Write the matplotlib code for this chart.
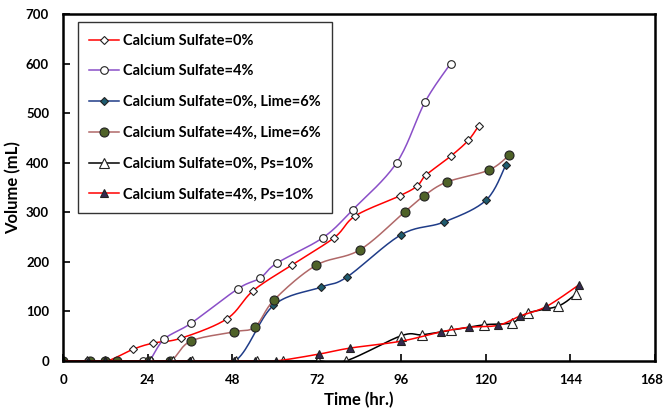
import matplotlib
matplotlib.use('Agg')
import matplotlib.pyplot as plt
import matplotlib.transforms as mtransforms
import numpy as np

plt.rcParams['font.family'] = ['Lato', 'DejaVu Sans']
plt.rcParams['font.weight'] = 'bold'

# hours / volume (mL)
hours_cs0 = [0, 7, 12.5, 20, 25.5, 33.5, 46.5, 54, 65, 77, 83, 95.5, 100.5, 103, 110, 115, 118]
vol_cs0 = [0, 0, 0, 24, 36, 46, 85, 142, 194, 249, 293, 333, 353, 375, 413, 445, 475]

hours_cs4 = [0, 7, 12, 22.8, 24.5, 28.7, 36.3, 49.7, 55.9, 60.6, 73.8, 82.2, 94.7, 102.7, 110]
vol_cs4 = [0, 0, 0, 0, 0, 44, 76, 146, 167, 197, 249, 305, 400, 522, 600]

hours_cs0_lime = [0, 7, 12, 24, 30, 36, 48.8, 59.7, 73.2, 80.5, 96, 108, 120, 125.7]
vol_cs0_lime = [0, 0, 0, 0, 0, 0, 0, 112, 149, 169, 255, 280, 324, 396]

hours_cs4_lime = [0, 7.7, 12, 15.2, 24.5, 30.5, 36.2, 48.6, 54.5, 60, 71.8, 84.2, 97, 102.4, 108.9, 120.8, 126.6]
vol_cs4_lime = [0, 0, 0, 0, 0, 0, 40, 59, 69, 124, 193, 224, 301, 333, 361, 385, 415]

hours_cs0_ps = [0, 6.9, 11.9, 25, 31.3, 36.5, 49, 55, 62.5, 72.4, 80.2, 96, 102, 110, 119.5, 127.3, 132, 140.6, 145.5]
vol_cs0_ps = [0, 0, 0, 0, 0, 0, 0, 0, 0, 0, 0, 51, 53, 62, 73, 77, 97, 111, 135]

hours_cs4_ps = [0, 7, 12, 24, 30, 36, 48.5, 54.5, 60.4, 72.7, 81.4, 96, 107.4, 115.3, 123.5, 129.8, 137.2, 146.3]
vol_cs4_ps = [0, 0, 0, 0, 0, 0, 0, 0, 0, 14, 26, 40, 59, 68, 72, 91, 110, 153]

labels = ['Calcium Sulfate=0%', 'Calcium Sulfate=4%',
          'Calcium Sulfate=0%, Lime=6%', 'Calcium Sulfate=4%, Lime=6%',
          'Calcium Sulfate=0%, Ps=10%', 'Calcium Sulfate=4%, Ps=10%']


def smooth(x, y, n=20):
    # excel-like smoothed line (catmull-rom through the points)
    x = np.asarray(x, float)
    y = np.asarray(y, float)
    px = np.concatenate([[x[0]], x, [x[-1]]])
    py = np.concatenate([[y[0]], y, [y[-1]]])
    t = np.linspace(0, 1, n)
    xs, ys = [], []
    for i in range(1, len(px) - 2):
        p0, p1, p2, p3 = px[i-1], px[i], px[i+1], px[i+2]
        q0, q1, q2, q3 = py[i-1], py[i], py[i+1], py[i+2]
        c1x, c1y = p1 + (p2 - p0) / 6, q1 + (q2 - q0) / 6
        c2x, c2y = p2 - (p3 - p1) / 6, q2 - (q3 - q1) / 6
        b = [(1-t)**3, 3*(1-t)**2*t, 3*(1-t)*t**2, t**3]
        xs.append(b[0]*p1 + b[1]*c1x + b[2]*c2x + b[3]*p2)
        ys.append(b[0]*q1 + b[1]*c1y + b[2]*c2y + b[3]*q2)
    return np.concatenate(xs), np.concatenate(ys)


series = [
    (hours_cs0, vol_cs0, '#ff0000', 'D', 4.0, 'white'),
    (hours_cs4, vol_cs4, '#8a4fc8', 'o', 5.5, 'white'),
    (hours_cs0_lime, vol_cs0_lime, '#1f3c88', 'D', 4.0, '#1f5c70'),
    (hours_cs4_lime, vol_cs4_lime, '#b06868', 'o', 6.5, '#4f6228'),
    (hours_cs0_ps, vol_cs0_ps, '#000000', '^', 7.0, 'white'),
    (hours_cs4_ps, vol_cs4_ps, '#ff0000', '^', 5.5, '#34294f'),
]

fig = plt.figure(figsize=(6.65, 4.12), dpi=100)
ax = fig.add_axes([63/665, 1-361/412, 592/665, 347/412])

for (h, v, lc, mk, ms, fc), lab in zip(series, labels):
    sx, sy = smooth(h, v)
    ax.plot(sx, sy, color=lc, lw=1.1)
    ax.plot(h, v, linestyle='none', marker=mk, ms=ms, mfc=fc, mec='#222222', mew=0.8)
    ax.plot([], [], color=lc, lw=1.1, marker=mk, ms=ms, mfc=fc, mec='#222222',
            mew=0.8, label=lab)

ax.set_xlim(0, 168)
ax.set_ylim(0, 700)
ax.set_xticks(np.arange(0, 169, 24))
ax.set_yticks(np.arange(0, 701, 100))
ax.tick_params(direction='in', length=5, width=1.2, labelsize=9.5)
ax.tick_params(axis='y', pad=10)
ax.tick_params(axis='x', pad=9)
for s in ax.spines.values():
    s.set_linewidth(1.8)

# keep the last x label inside the figure
last = ax.get_xticklabels()[-1]
last.set_transform(last.get_transform() + mtransforms.ScaledTranslation(-3/100, 0, fig.dpi_scale_trans))

ax.set_xlabel('Time (hr.)', fontsize=12, fontweight='bold', labelpad=5)
ax.set_ylabel('Volume (mL)', fontsize=12, fontweight='bold', labelpad=3)

leg = ax.legend(loc='upper left', bbox_to_anchor=(0.025, 0.977), fontsize=10.5,
                frameon=True, fancybox=False, edgecolor='black', labelspacing=1.15,
                handlelength=2.0, handletextpad=0.3, borderpad=0.8, borderaxespad=0)
leg.get_frame().set_linewidth(1.0)
for t in leg.get_texts():
    t.set_fontweight('bold')

plt.savefig('out.png', dpi=100)
